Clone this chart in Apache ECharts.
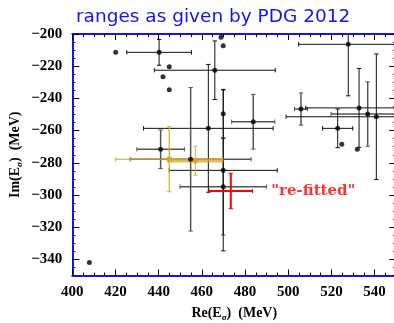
<!DOCTYPE html>
<html>
<head>
<meta charset="utf-8">
<script src="https://cdn.jsdelivr.net/npm/echarts@6/dist/echarts.min.js"></script>
<style>
html,body{margin:0;padding:0;background:#fff;}
#main{width:394px;height:323px;}
</style>
</head>
<body>
<div id="main"></div>
<script>
// PDG 2012 pole positions (MeV), black error bars
var darkRe = [440.2, 466, 463, 469.9, 469.9, 527.8, 532.8, 540.8, 522.9];
var darkIm = [-211.4, -222.5, -258.6, -249.5, -284.7, -206.4, -245.9, -251.4, -258.6];
var darkErrRe = [15, 28, 30, 0, 25, 23, 24.7, 41.8, 7];
var darkErrIm = [8, 18.2, 39.7, 15.1, 50, 32, 24.5, 39, 12];

// grey error bars
var greyRe = [454.8, 440.9, 469.9, 483.8, 505.9, 536.8];
var greyIm = [-277.8, -271.6, -294.8, -254.5, -246.6, -249.7];
var greyErrRe = [28, 11, 20, 10, 3, 17];
var greyErrIm = [44.6, 12, 30, 17, 10, 20];

// points without error bars
var dotRe = [420.1, 444.9, 442, 444.9, 468.9, 469.9, 407.9, 524.8, 532];
var dotIm = [-211.4, -220.3, -226.5, -234.6, -202, -207.3, -342, -268.5, -271.6];

// gold entries
var goldRe = [444.9];
var goldIm = [-277.8];
var goldErrRe = [24.8];
var goldErrIm = [20.2];
var amberRe = [457];
var amberIm = [-278.7];
var amberErrRe = [12.6];
var amberErrIm = [9];

// re-fitted
var refitRe = [473.4];
var refitIm = [-297.5];
var refitErrRe = [10];
var refitErrIm = [11];

var xTicks = [400, 420, 440, 460, 480, 500, 520, 540];
var yTicks = [-340, -320, -300, -280, -260, -240, -220, -200];

function rows(a, b, c, d){
	var out = [];
	for (var i = 0; i < a.length; i++) {
		out.push(d ? [a[i], b[i], c[i], d[i]] : [a[i], b[i]]);
	}
	return out;
}

function makeBars(color, hWidth, vWidth){
	return function(params, api){
		var x = api.value(0), y = api.value(1), ex = api.value(2), ey = api.value(3);
		var cs = params.coordSys;
		var c = api.coord([x, y]);
		var kids = [];
		var cap = 2.2;
		function seg(x1, y1, x2, y2, w){
			kids.push({type: 'line', shape: {x1: x1, y1: y1, x2: x2, y2: y2},
				style: {stroke: color, lineWidth: w}});
		}
		if (ex > 0) {
			var l = api.coord([x - ex, y])[0], r = api.coord([x + ex, y])[0];
			var lc = Math.max(l, cs.x), rc = Math.min(r, cs.x + cs.width);
			seg(lc, c[1], rc, c[1], hWidth);
			if (l >= cs.x) seg(l, c[1] - cap, l, c[1] + cap, 1);
			if (r <= cs.x + cs.width) seg(r, c[1] - cap, r, c[1] + cap, 1);
		}
		if (ey > 0) {
			var t = api.coord([x, y + ey])[1], b = api.coord([x, y - ey])[1];
			var tc = Math.max(t, cs.y), bc = Math.min(b, cs.y + cs.height);
			seg(c[0], tc, c[0], bc, vWidth);
			if (t >= cs.y) seg(c[0] - cap, t, c[0] + cap, t, 1);
			if (b <= cs.y + cs.height) seg(c[0] - cap, b, c[0] + cap, b, 1);
		}
		return {type: 'group', children: kids};
	};
}

var blue = '#1414f0';
var serif = '"Liberation Serif", "Times New Roman", serif';
var nameRich = {
	n: {fontFamily: serif, fontWeight: 'bold', fontSize: 14, color: '#000'},
	s: {fontFamily: serif, fontWeight: 'bold', fontSize: 9, color: '#000', padding: [9, 0, 0, 0]}
};

// main axis: every 5 MeV a short tick; overlay axis: long ticks on the labelled values
function xAxisOf(pos, major){
	return {
		type: 'value', position: pos, min: 400, max: 550, interval: 5,
		name: (pos == 'bottom' && !major) ? '{n|Re(E}{s|σ}{n|)  (MeV)}' : '',
		nameLocation: 'middle', nameGap: 29, nameMoveOverlap: false,
		nameTextStyle: {rich: nameRich},
		axisLine: {show: !major, onZero: false, lineStyle: {color: blue, width: 2}},
		axisTick: major ? {show: true, inside: true, length: 6, customValues: xTicks, lineStyle: {color: '#000'}}
			: {show: true, inside: true, length: 3, lineStyle: {color: '#000'}},
		splitLine: {show: false},
		axisLabel: {show: pos == 'bottom' && !major, margin: 9, fontFamily: serif, fontWeight: 'bold',
			fontSize: 15, color: '#000',
			formatter: function(v){ return xTicks.indexOf(v) >= 0 ? String(v) : ''; }}
	};
}
function yAxisOf(pos, major){
	return {
		type: 'value', position: pos, min: -350, max: -200, interval: 5,
		name: (pos == 'left' && !major) ? '{n|Im(E}{s|σ}{n|)  (MeV)}' : '',
		nameLocation: 'middle', nameGap: 48, nameRotate: 90, nameMoveOverlap: false,
		nameTextStyle: {rich: nameRich},
		axisLine: {show: !major, onZero: false, lineStyle: {color: blue, width: 2}},
		axisTick: major ? {show: true, inside: true, length: 7, customValues: yTicks, lineStyle: {color: '#000'}}
			: {show: true, inside: true, length: 3, lineStyle: {color: '#000'}},
		splitLine: {show: false},
		axisLabel: {show: pos == 'left' && !major, margin: 10, fontFamily: serif, fontWeight: 'bold',
			fontSize: 15, color: '#000',
			formatter: function(v){ return yTicks.indexOf(v) >= 0 ? String(v).replace('-', '\u2212') : ''; }}
	};
}

var chart = echarts.init(document.getElementById('main'));
var option = {
	animation: false,
	title: {
		text: 'ranges as given by PDG 2012',
		left: 71, top: 3,
		textStyle: {color: blue, fontFamily: '"DejaVu Sans", sans-serif', fontWeight: 'normal', fontSize: 18.5}
	},
	grid: {left: 72.3, top: 34, width: 323.9, height: 241.5, containLabel: false, outerBoundsMode: 'none'},
	xAxis: [xAxisOf('bottom', false), xAxisOf('top', false), xAxisOf('bottom', true), xAxisOf('top', true)],
	yAxis: [yAxisOf('left', false), yAxisOf('right', false), yAxisOf('left', true), yAxisOf('right', true)],
	series: [
		{type: 'custom', renderItem: makeBars('#555', 1.5, 1.5), data: rows(greyRe, greyIm, greyErrRe, greyErrIm), z: 2},
		{type: 'custom', renderItem: makeBars('#111', 1, 1), data: rows(darkRe, darkIm, darkErrRe, darkErrIm), z: 3},
		{type: 'custom', renderItem: makeBars('#daa520', 1.2, 1.2), data: rows(goldRe, goldIm, goldErrRe, goldErrIm), z: 4},
		{type: 'custom', renderItem: makeBars('rgba(218,165,32,0.75)', 3.5, 1.2), data: rows(amberRe, amberIm, amberErrRe, amberErrIm), z: 4},
		{type: 'custom', renderItem: makeBars('#ff0000', 2, 2), data: rows(refitRe, refitIm, refitErrRe, refitErrIm), z: 6},
		{type: 'scatter', symbol: 'circle', symbolSize: 6, itemStyle: {color: '#daa520'},
			data: rows(goldRe.concat(amberRe), goldIm.concat(amberIm)), z: 5},
		{type: 'scatter', symbol: 'circle', symbolSize: 5, itemStyle: {color: '#000'},
			data: rows(darkRe.concat(greyRe, dotRe), darkIm.concat(greyIm, dotIm)), z: 7},
		{type: 'scatter', symbolSize: 1, itemStyle: {color: '#ff0000'},
			data: rows(refitRe, refitIm), z: 8,
			label: {show: true, position: 'right', distance: 40, formatter: '"re-fitted"',
				color: '#ff0000', fontFamily: '"DejaVu Serif", serif', fontWeight: 'bold', fontSize: 15}}
	]
};
chart.setOption(option);
</script>
</body>
</html>
